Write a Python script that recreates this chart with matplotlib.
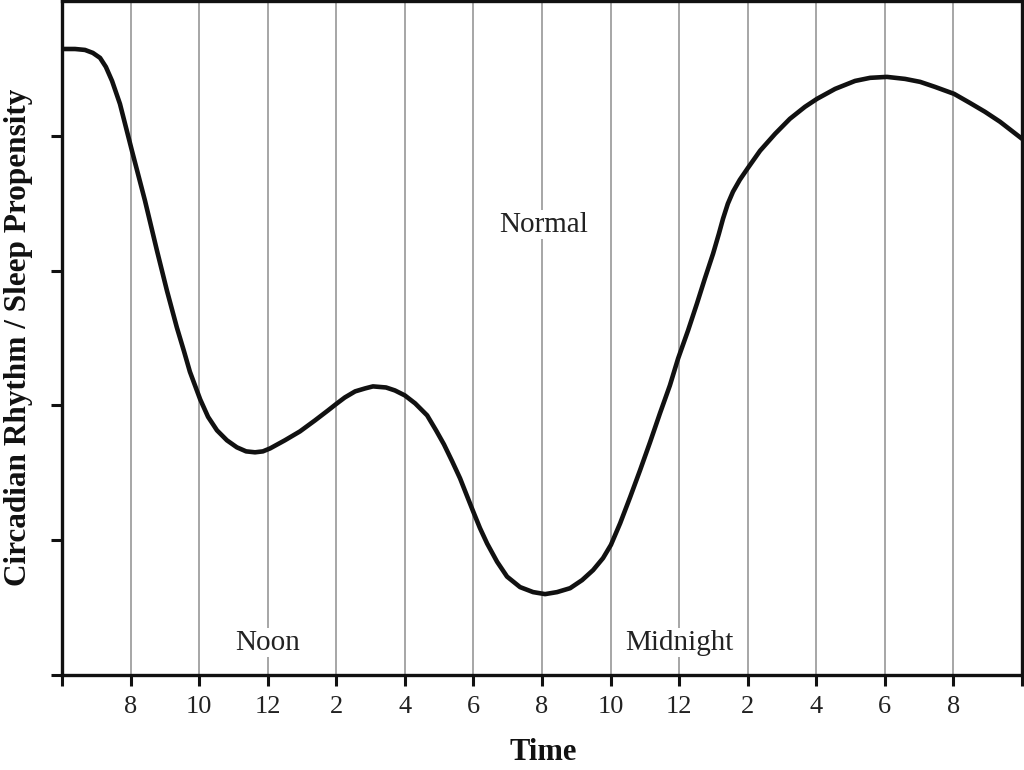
import numpy as np
import matplotlib
matplotlib.use('Agg')
import matplotlib.pyplot as plt

plt.rcParams['font.family'] = ['Liberation Serif', 'DejaVu Serif']

# hours since midnight of the first day (6 = 6 AM, 34 = 10 AM next day)
hours = [6.00, 6.38, 6.67, 6.90, 7.11, 7.28, 7.46, 7.69, 8.04, 8.42, 8.77, 9.06,
         9.35, 9.56, 9.73, 10.03, 10.26, 10.52, 10.81, 11.10, 11.37, 11.63, 11.86,
         12.07, 12.50, 12.94, 13.38, 13.76, 14.02, 14.25, 14.55, 14.84, 15.07,
         15.45, 15.71, 16.00, 16.30, 16.65, 16.91, 17.14, 17.38, 17.61, 17.81,
         17.99, 18.19, 18.40, 18.69, 18.98, 19.36, 19.74, 20.09, 20.44, 20.82,
         21.17, 21.49, 21.78, 22.01, 22.28, 22.57, 22.86, 23.15, 23.44, 23.73,
         23.97, 24.26, 24.52, 24.75, 24.99, 25.16, 25.28, 25.42, 25.57, 25.77,
         26.01, 26.36, 26.80, 27.23, 27.67, 28.02, 28.55, 29.13, 29.57, 30.06,
         30.59, 31.03, 31.46, 32.02, 32.48, 32.92, 33.36, 34.00]
# circadian rhythm / sleep propensity (arbitrary units, axis 0..5)
propensity = [4.644, 4.644, 4.637, 4.615, 4.578, 4.511, 4.407, 4.237, 3.889, 3.519, 3.148, 2.852,
              2.578, 2.400, 2.250, 2.045, 1.915, 1.815, 1.741, 1.689, 1.659, 1.652, 1.659,
              1.681, 1.741, 1.807, 1.889, 1.963, 2.015, 2.059, 2.104, 2.126, 2.141,
              2.133, 2.111, 2.074, 2.015, 1.926, 1.815, 1.711, 1.585, 1.459, 1.330,
              1.215, 1.090, 0.975, 0.840, 0.730, 0.652, 0.615, 0.600, 0.615, 0.644,
              0.704, 0.778, 0.867, 0.965, 1.126, 1.319, 1.519, 1.726, 1.941, 2.148,
              2.348, 2.556, 2.756, 2.941, 3.126, 3.274, 3.385, 3.496, 3.585, 3.674,
              3.763, 3.889, 4.015, 4.126, 4.215, 4.274, 4.348, 4.407, 4.430, 4.437,
              4.422, 4.400, 4.363, 4.311, 4.244, 4.178, 4.104, 3.978]

tick_hours = [6, 8, 10, 12, 14, 16, 18, 20, 22, 24, 26, 28, 30, 32, 34]
tick_labels = ['', '8', '10', '12', '2', '4', '6', '8', '10', '12', '2', '4', '6', '8', '']
grid_hours = tick_hours[1:-1]

fig = plt.figure(figsize=(10.24, 7.7), dpi=100)
ax = fig.add_axes([62 / 1024, 1 - 675 / 770, 960 / 1024, 674 / 770])

for h in grid_hours:
    ax.axvline(h, color='#a6a6a6', lw=1.4, zorder=1)

ax.plot(hours, propensity, color='#111111', lw=3.3, solid_capstyle='round',
        solid_joinstyle='round', zorder=3)

ax.set_xlim(6, 34)
ax.set_ylim(0, 5)
ax.set_xticks(tick_hours)
ax.set_xticklabels(tick_labels, fontsize=19, color='#222222')
ax.set_yticks([0, 1, 2, 3, 4])
ax.set_yticklabels([])
ax.tick_params(axis='both', direction='out', length=8, width=2.2, color='#111111', pad=7)

for s in ax.spines.values():
    s.set_linewidth(2.4)
    s.set_color('#111111')

box = dict(facecolor='white', edgecolor='none', pad=1)
ax.text(12, 0.24, 'Noon', ha='center', va='center', fontsize=21, color='#222222', bbox=box, zorder=4)
ax.text(24, 0.24, 'Midnight', ha='center', va='center', fontsize=21, color='#222222', bbox=box, zorder=4)
ax.text(20.05, 3.34, 'Normal', ha='center', va='center', fontsize=21, color='#222222', bbox=box, zorder=4)

fig.text(543 / 1024, 1 - 752 / 770, 'Time', ha='center', va='center',
         fontsize=22, fontweight='bold', color='#111111')
fig.text(19 / 1024, 1 - 337 / 770, 'Circadian Rhythm / Sleep Propensity', ha='center', va='center',
         rotation=90, fontsize=22.5, fontweight='bold', color='#111111')

fig.savefig('out.png', dpi=100)
